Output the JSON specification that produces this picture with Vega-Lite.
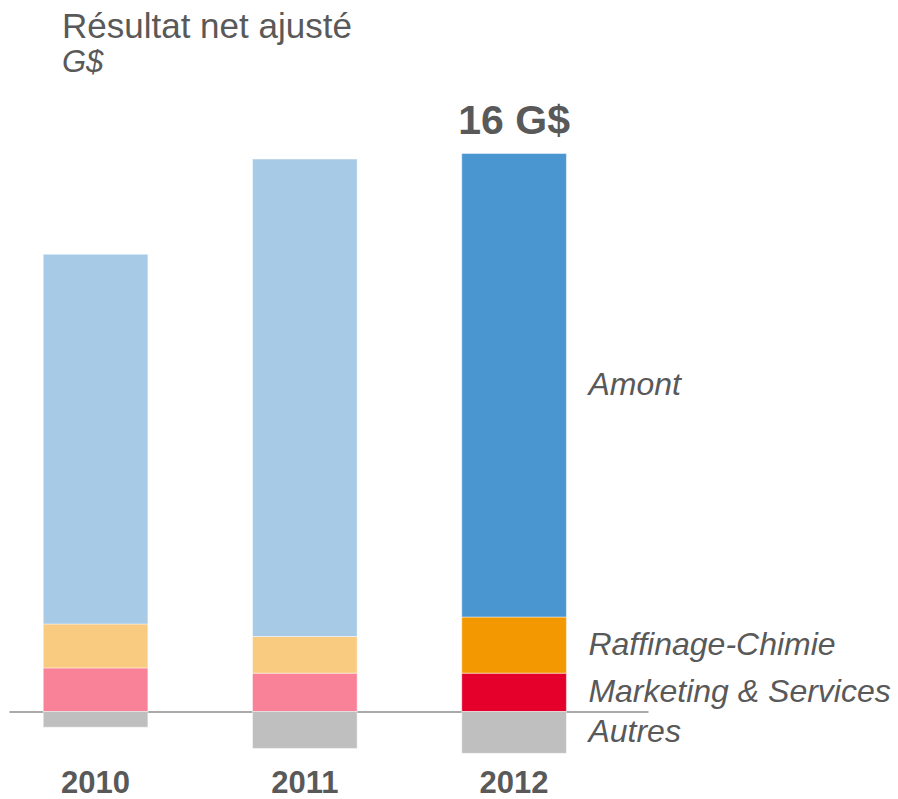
{
  "$schema": "https://vega.github.io/schema/vega-lite/v6.json",
  "width": 898,
  "height": 709,
  "autosize": {"type": "none"},
  "padding": {"top": 90, "left": 0, "right": 0, "bottom": 0},
  "background": "white",
  "config": {"view": {"stroke": null}, "font": "Liberation Sans"},
  "title": {
    "text": "Résultat net ajusté",
    "subtitle": "G$",
    "anchor": "start",
    "frame": "group",
    "dx": 62,
    "offset": 12,
    "font": "Liberation Sans",
    "fontSize": 35,
    "fontWeight": "normal",
    "color": "#595959",
    "subtitleFont": "Liberation Sans",
    "subtitleFontSize": 31,
    "subtitleFontStyle": "italic",
    "subtitleColor": "#595959",
    "subtitlePadding": 3
  },
  "datasets": {
    "segments": [
      {"annee": "2010", "segment": "Marketing & Services", "rang": 1, "valeur": 1.25},
      {"annee": "2010", "segment": "Raffinage-Chimie", "rang": 2, "valeur": 1.26},
      {"annee": "2010", "segment": "Amont", "rang": 3, "valeur": 10.60},
      {"annee": "2010", "segment": "Autres", "rang": 4, "valeur": -0.45},
      {"annee": "2011", "segment": "Marketing & Services", "rang": 1, "valeur": 1.10},
      {"annee": "2011", "segment": "Raffinage-Chimie", "rang": 2, "valeur": 1.05},
      {"annee": "2011", "segment": "Amont", "rang": 3, "valeur": 13.69},
      {"annee": "2011", "segment": "Autres", "rang": 4, "valeur": -1.06},
      {"annee": "2012", "segment": "Marketing & Services", "rang": 1, "valeur": 1.10},
      {"annee": "2012", "segment": "Raffinage-Chimie", "rang": 2, "valeur": 1.61},
      {"annee": "2012", "segment": "Amont", "rang": 3, "valeur": 13.29},
      {"annee": "2012", "segment": "Autres", "rang": 4, "valeur": -1.20}
    ],
    "total": [
      {"annee": "2012", "total": 16, "libelle": "16 G$"}
    ]
  },
  "layer": [
    {
      "data": {"name": "segments"},
      "transform": [{"filter": "datum.annee !== '2012'"}],
      "mark": {"type": "bar", "stroke": "#ffffff", "strokeOpacity": 0.45, "strokeWidth": 1},
      "encoding": {
        "x": {
          "field": "annee",
          "type": "nominal",
          "title": null,
          "scale": {"domain": ["2010", "2011", "2012"], "range": [9, 648], "paddingInner": 0.5, "paddingOuter": 0.2768, "align": 0.2957},
          "axis": {
            "offset": -87.5,
            "ticks": false,
            "tickSize": 0,
            "labelPadding": 80.5,
            "labelBaseline": "alphabetic",
            "labelAngle": 0,
            "labelFont": "Liberation Sans",
            "labelFontSize": 31,
            "labelFontWeight": "bold",
            "labelColor": "#595959",
            "domainColor": "#8c8c8c",
            "domainWidth": 1.3,
            "grid": false
          }
        },
        "y": {
          "field": "valeur",
          "type": "quantitative",
          "stack": "zero",
          "scale": {"domain": [-2.509, 17.821], "nice": false, "zero": false},
          "axis": null
        },
        "color": {
          "field": "segment",
          "type": "nominal",
          "scale": {"domain": ["Amont", "Raffinage-Chimie", "Marketing & Services", "Autres"], "range": ["#A7CBE6", "#F9CB80", "#F98298", "#BFBFBF"]},
          "legend": null
        },
        "order": {"field": "rang", "type": "quantitative"}
      }
    },
    {
      "data": {"name": "segments"},
      "transform": [{"filter": "datum.annee === '2012'"}],
      "mark": {"type": "bar", "stroke": "#ffffff", "strokeOpacity": 0.45, "strokeWidth": 1},
      "encoding": {
        "x": {"field": "annee", "type": "nominal"},
        "y": {"field": "valeur", "type": "quantitative", "stack": "zero"},
        "color": {
          "field": "segment",
          "type": "nominal",
          "scale": {"domain": ["Amont", "Raffinage-Chimie", "Marketing & Services", "Autres"], "range": ["#4A96D0", "#F39800", "#E4002B", "#BFBFBF"]},
          "legend": null
        },
        "order": {"field": "rang", "type": "quantitative"}
      }
    },
    {
      "data": {"name": "segments"},
      "transform": [{"filter": "datum.annee === '2012'"}],
      "mark": {"type": "text", "align": "left", "baseline": "middle", "dx": 22, "font": "Liberation Sans", "fontSize": 32, "fontStyle": "italic", "color": "#595959"},
      "encoding": {
        "x": {"field": "annee", "type": "nominal", "bandPosition": 1},
        "y": {"field": "valeur", "type": "quantitative", "stack": "zero", "bandPosition": 0.5},
        "detail": {"field": "segment"},
        "order": {"field": "rang", "type": "quantitative"},
        "text": {"field": "segment"}
      }
    },
    {
      "data": {"name": "total"},
      "mark": {"type": "text", "align": "center", "baseline": "alphabetic", "dy": -20, "font": "Liberation Sans", "fontSize": 41, "fontWeight": "bold", "color": "#595959"},
      "encoding": {
        "x": {"field": "annee", "type": "nominal"},
        "y": {"field": "total", "type": "quantitative"},
        "text": {"field": "libelle"}
      }
    }
  ],
  "resolve": {"scale": {"color": "independent"}}
}
